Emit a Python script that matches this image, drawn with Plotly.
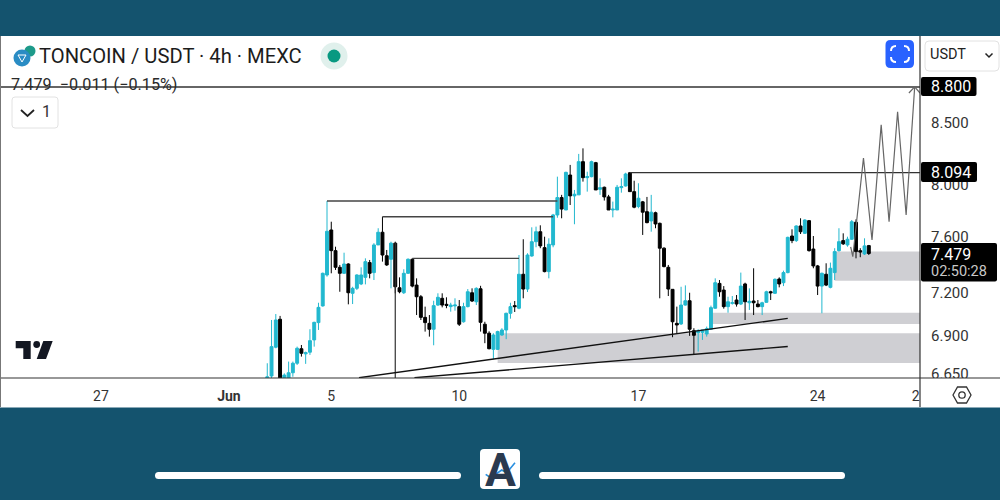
import numpy as np
import pandas as pd
import plotly.graph_objects as go

# 4h candles
dates = pd.date_range("2024-06-02 12:00", periods=142, freq="4h")
opens = [6.610,6.636,6.825,7.014,6.610,6.610,6.657,6.719,6.815,6.781,6.792,6.874,6.991,7.106,7.324,
         7.653,7.50,7.379,7.336,7.403,7.194,7.229,7.26,7.307,7.413,
         7.341,7.542,7.636,7.463,7.437,7.555,7.233,7.198,7.336,7.437,
         7.252,7.17,7.027,6.986,6.946,7.112,7.159,7.117,7.101,7.106,
         7.101,6.997,7.101,7.198,7.135,7.226,6.98,6.919,
         6.811,6.811,6.907,6.941,7.055,7.108,7.09,7.329,7.224,7.461,
         7.566,7.64,7.522,7.348,7.542,7.766,7.899,7.804,8.075,7.912,
         7.92,8.181,8.054,8.062,8.173,7.963,7.979,7.904,7.804,7.804,
         7.976,7.989,8.093,7.945,7.83,7.866,7.791,7.721,7.783,7.703,
         7.518,7.379,7.222,6.986,6.982,7.112,7.142,6.936,6.923,6.925,
         6.914,6.946,7.09,7.264,7.217,7.101,7.124,7.147,7.119,7.26,
         7.128,7.14,7.119,7.101,7.131,7.205,7.194,7.295,7.269,7.341,
         7.608,7.574,7.683,7.628,7.723,7.512,7.389,7.245,7.329,7.236,
         7.341,7.50,7.574,7.542,7.584,7.711,7.50,7.476,7.537]
highs = [6.719,7.009,7.050,7.037,6.653,6.730,6.730,6.829,6.84,6.796,6.946,6.997,7.128,7.341,7.873,
         7.715,7.529,7.396,7.485,7.408,7.240,7.329,7.379,7.444,7.432,
         7.555,7.666,7.753,7.505,7.566,7.566,7.307,7.365,7.444,7.444,
         7.30,7.182,7.101,7.043,7.142,7.194,7.194,7.166,7.128,7.159,
         7.147,7.128,7.224,7.229,7.236,7.247,6.997,6.932,
         6.919,6.936,6.953,7.059,7.128,7.14,7.468,7.584,7.481,7.673,
         7.678,7.688,7.603,7.591,7.774,8.062,7.92,8.101,8.155,7.958,
         8.243,8.288,8.101,8.189,8.179,8.049,7.984,7.92,7.868,7.997,
         8.049,8.093,8.099,8.03,8.01,7.873,7.904,7.92,7.791,7.708,
         7.525,7.396,7.222,7.101,7.24,7.25,7.198,6.953,6.946,6.941,
         6.964,7.108,7.30,7.288,7.245,7.17,7.175,7.182,7.341,7.269,
         7.229,7.372,7.147,7.135,7.212,7.212,7.30,7.307,7.355,7.603,
         7.658,7.688,7.741,7.733,7.728,7.608,7.396,7.341,7.408,7.413,
         7.518,7.666,7.628,7.603,7.728,7.733,7.518,7.591,7.542]
lows = [6.59,6.623,6.818,6.59,6.60,6.60,6.631,6.708,6.763,6.715,6.774,6.829,6.941,7.101,7.312,
        7.336,7.36,7.205,7.331,7.117,7.119,7.217,7.252,7.257,7.30,
        7.288,7.542,7.42,7.389,7.229,7.194,7.194,7.189,7.331,7.236,
        7.043,7.009,6.93,6.896,6.838,7.106,7.096,7.09,7.066,7.073,
        6.968,6.991,7.096,7.133,7.112,6.93,6.852,6.811,
        6.746,6.807,6.901,6.879,7.018,7.064,7.083,7.159,7.203,7.456,
        7.525,7.518,7.343,7.30,7.525,7.745,7.741,7.804,7.842,7.696,
        7.92,8.023,7.945,8.057,7.958,7.92,7.876,7.804,7.748,7.804,
        7.937,7.984,7.945,7.817,7.817,7.616,7.703,7.64,7.666,7.159,
        7.379,7.175,6.892,6.919,6.975,7.108,6.901,6.779,6.796,6.874,
        6.896,6.941,7.087,7.17,7.087,7.059,7.115,7.101,7.112,7.009,
        7.078,7.043,7.096,7.043,7.128,7.147,7.189,7.236,7.245,7.336,
        7.555,7.564,7.623,7.623,7.493,7.372,7.182,7.055,7.245,7.229,
        7.288,7.493,7.542,7.529,7.579,7.444,7.452,7.468,7.468]
closes = [6.631,6.829,7.009,6.610,6.642,6.657,6.719,6.818,6.785,6.789,6.869,6.993,7.096,7.336,7.643,
          7.50,7.379,7.336,7.403,7.198,7.229,7.324,7.324,7.42,7.336,
          7.542,7.636,7.468,7.396,7.555,7.24,7.205,7.336,7.437,7.245,
          7.17,7.027,6.991,6.946,7.108,7.166,7.112,7.11,7.112,7.112,
          6.98,7.101,7.205,7.14,7.229,6.993,6.919,6.815,
          6.907,6.93,6.941,7.055,7.101,7.101,7.329,7.224,7.468,7.566,
          7.64,7.535,7.348,7.547,7.766,7.899,7.811,8.096,7.912,7.925,
          8.181,8.054,8.062,8.181,7.958,7.976,7.904,7.804,7.81,7.979,
          7.984,8.083,7.945,7.825,7.894,7.787,7.708,7.787,7.698,7.518,
          7.384,7.224,6.997,6.975,7.112,7.142,6.946,6.905,6.936,6.941,
          6.95,7.094,7.269,7.205,7.101,7.135,7.128,7.119,7.245,7.135,
          7.138,7.128,7.101,7.128,7.205,7.198,7.293,7.26,7.341,7.598,
          7.574,7.683,7.64,7.728,7.50,7.389,7.245,7.336,7.252,7.372,
          7.493,7.566,7.55,7.584,7.715,7.493,7.49,7.535,7.479]

# drawings on the chart
level_880 = ["2024-05-23 01:24", "2024-06-28 00:00"]
level_880_y = [8.8, 8.8]
level_8094 = ["2024-06-16 16:00", "2024-06-28 00:00"]
level_8094_y = [8.094, 8.094]
level_a = ["2024-06-04 20:00", "2024-06-13 20:00"]
level_a_y = [7.873, 7.873]
level_b = ["2024-06-07 00:00", "2024-06-13 16:00"]
level_b_y = [7.753, 7.753]
level_c = ["2024-06-08 04:00", "2024-06-12 08:00"]
level_c_y = [7.444, 7.444]
drop_x = ["2024-06-07 12:00", "2024-06-07 12:00"]
drop_y = [7.555, 6.62]
trend1_x = ["2024-06-06 02:00", "2024-06-22 20:00"]
trend1_y = [6.625, 7.02]
trend2_x = ["2024-06-08 06:00", "2024-06-22 20:00"]
trend2_y = [6.625, 6.83]
zig_x = ["2024-06-25 07:00", "2024-06-25 09:00", "2024-06-25 19:00", "2024-06-26 03:00", "2024-06-26 11:36",
         "2024-06-26 19:00", "2024-06-27 03:00", "2024-06-27 11:00", "2024-06-27 19:00"]
zig_y = [7.527, 7.456, 8.21, 7.579, 8.48, 7.715, 8.589, 7.766, 8.8]
head_x = ["2024-06-27 13:36", "2024-06-27 19:00", "2024-06-28 00:00"]
head_y = [8.748, 8.8, 8.748]
# demand zones: start, end, low, high
zone_starts = ["2024-06-11 12:00", "2024-06-19 20:00", "2024-06-24 16:00"]
zone_end = "2024-06-28 00:00"
zone_lows = [6.72, 6.982, 7.283]
zone_highs = [6.919, 7.059, 7.493]

price_ticks = [8.5, 8.0, 7.6, 7.2, 6.9, 6.65]
price_labels = ["8.500", "8.000", "7.600", "7.200", "6.900", "6.650"]
day_ticks = ["2024-05-27", "2024-06-01", "2024-06-05", "2024-06-10", "2024-06-17", "2024-06-24", "2024-06-27 20:00"]
day_labels = ["27", "<b>Jun</b>", "5", "10", "17", "24", "2"]

TEAL = "#14536e"
CANDLE_UP = "#22b8cf"
DARK = "#333333"


def fx(x):
    return x / 1000


def fy(y):
    return 1 - y / 500


def rounded(x0, y0, x1, y1, r):
    a, b, c, d = fx(x0), fy(y0), fx(x1), fy(y1)
    rx, ry = r / 1000, r / 500
    return (f"M{a+rx},{b} L{c-rx},{b} Q{c},{b} {c},{b-ry} L{c},{d+ry} Q{c},{d} {c-rx},{d} "
            f"L{a+rx},{d} Q{a},{d} {a},{d+ry} L{a},{b-ry} Q{a},{b} {a+rx},{b} Z")


def poly(points, close=True):
    s = "M" + " L".join(f"{fx(x)},{fy(y)}" for x, y in points)
    return s + (" Z" if close else "")


def corner(x0, y0, cx, cy, x1, y1):
    return f"M{fx(x0)},{fy(y0)} Q{fx(cx)},{fy(cy)} {fx(x1)},{fy(y1)}"


def paper_shape(path, fill="rgba(0,0,0,0)", line=None, width=1, layer="above"):
    return dict(type="path", xref="paper", yref="paper", path=path, fillcolor=fill,
                line=dict(color=line or "rgba(0,0,0,0)", width=width if line else 0), layer=layer)


def circle(cx, cy, r, fill, line=None, width=1):
    return dict(type="circle", xref="paper", yref="paper", x0=fx(cx - r), x1=fx(cx + r), y0=fy(cy + r), y1=fy(cy - r),
                fillcolor=fill, line=dict(color=line or "rgba(0,0,0,0)", width=width if line else 0), layer="above")


def label(x, y, text, size=14, color="#222222", anchor="left"):
    return dict(xref="paper", yref="paper", x=fx(x), y=fy(y), text=text, showarrow=False, xanchor=anchor, yanchor="middle",
                font=dict(size=size, color=color, family="Roboto"), borderpad=0, borderwidth=0)


fig = go.Figure()
fig.add_trace(go.Candlestick(x=dates, open=opens, high=highs, low=lows, close=closes,
                             increasing=dict(line=dict(color=CANDLE_UP, width=1), fillcolor=CANDLE_UP),
                             decreasing=dict(line=dict(color="#000000", width=1), fillcolor="#000000"),
                             showlegend=False, hoverinfo="skip"))

for xs, ys, color, w in [(level_880, level_880_y, "#333333", 1.4), (level_8094, level_8094_y, "#333333", 1.4),
                         (level_a, level_a_y, "#444444", 1.4), (level_b, level_b_y, "#444444", 1.4), (level_c, level_c_y, "#444444", 1.4),
                         (drop_x, drop_y, "#333333", 1.2), (trend1_x, trend1_y, "#111111", 1.4), (trend2_x, trend2_y, "#111111", 1.4),
                         (zig_x, zig_y, "#666666", 1.2), (head_x, head_y, "#666666", 1.2)]:
    fig.add_trace(go.Scatter(x=xs, y=ys, mode="lines", line=dict(color=color, width=w), showlegend=False, hoverinfo="skip"))

shapes = [
    # white chart card on the teal page
    dict(type="rect", xref="paper", yref="paper", x0=0, x1=1, y0=fy(407.5), y1=fy(36), fillcolor="white", line=dict(width=0), layer="below"),
]
for start, low, high in zip(zone_starts, zone_lows, zone_highs):
    shapes.append(dict(type="rect", xref="x", yref="y", x0=start, x1=zone_end, y0=low, y1=high,
                       fillcolor="#cfcfd3", line=dict(width=0), layer="below"))

shapes += [
    # cuts the lowest price label at the axis line, as in the picture
    dict(type="rect", xref="paper", yref="paper", x0=fx(922), x1=fx(999), y0=fy(386), y1=fy(378), fillcolor="white", line=dict(width=0)),
    dict(type="line", xref="paper", yref="paper", x0=0, x1=1, y0=fy(378), y1=fy(378), line=dict(color=DARK, width=1.2)),
    dict(type="line", xref="paper", yref="paper", x0=fx(920), x1=fx(920), y0=fy(407), y1=fy(36), line=dict(color=DARK, width=1.2)),
    dict(type="line", xref="paper", yref="paper", x0=fx(0.5), x1=fx(0.5), y0=fy(407), y1=fy(36), line=dict(color="#777777", width=1)),
    # price tags
    paper_shape(rounded(921, 77, 976.5, 96, 2), fill="#000000"),
    paper_shape(rounded(921, 162, 977, 182, 2), fill="#000000"),
    paper_shape(rounded(921, 243, 997, 281.5, 2), fill="#000000"),
    # ticker icon
    circle(30, 51, 5.5, "#1d9a8a"),
    circle(22, 58, 8.5, "#2a8cc4"),
    paper_shape(poly([(18, 55), (26, 55), (22, 62)]), line="white", width=1),
    # market status dot
    circle(334, 56, 13.5, "#e0f0ec"),
    circle(334, 56, 6.5, "#089981"),
    # legend toggle box
    paper_shape(rounded(12, 97, 58, 128, 3), fill="white", line="#e2e2e2", width=1),
    paper_shape(poly([(21, 110), (27.5, 116), (34, 110)], close=False), line="#222222", width=1.8),
    # full screen button
    paper_shape(rounded(885.5, 40, 914, 68, 5), fill="#2962ff"),
    paper_shape(corner(891, 51, 891, 46, 896, 46), line="white", width=2),
    paper_shape(corner(904, 46, 909, 46, 909, 51), line="white", width=2),
    paper_shape(corner(909, 57, 909, 62, 904, 62), line="white", width=2),
    paper_shape(corner(896, 62, 891, 62, 891, 57), line="white", width=2),
    # currency box
    paper_shape(rounded(925, 41, 999, 71, 4), fill="white", line="#e2e2e2", width=1),
    paper_shape(poly([(985.5, 53.5), (989, 57), (992.5, 53.5)], close=False), line="#222222", width=1.5),
    # tradingview mark
    paper_shape(poly([(15.7, 341), (30.7, 341), (30.7, 359), (23.3, 359), (23.3, 348.3), (15.7, 348.3)]), fill="#131722"),
    circle(36.7, 344.5, 3.4, "#131722"),
    paper_shape(poly([(43.3, 341), (52.7, 341), (46, 359), (36.7, 359)]), fill="#131722"),
    # settings icon
    paper_shape(poly([(953, 395), (957.5, 387), (966.5, 387), (971, 395), (966.5, 403), (957.5, 403)]), line="#333333", width=1.3),
    circle(962, 395, 3.2, "white", line="#333333", width=1.3),
    # footer bars and badge
    paper_shape(rounded(155, 472, 461, 479, 3.5), fill="white"),
    paper_shape(rounded(539, 472, 845, 479, 3.5), fill="white"),
    paper_shape(rounded(480, 449, 520, 489, 4), fill="white"),
]

annotations = [
    label(39, 56, "TONCOIN / USDT · 4h · MEXC", size=20.2, color="#1c1c1c"),
    label(11, 84, "7.479  −0.011 (−0.15%)", size=16.2, color="#2a2a2a"),
    label(42, 112, "1", size=16, color="#333333"),
    label(930, 55, "USDT", size=14.5, color="#222222"),
    label(931, 86.5, "8.800", size=16, color="white"),
    label(931, 172, "8.094", size=16, color="white"),
    label(931, 254, "7.479", size=16, color="white"),
    label(931, 271, "02:50:28", size=14.5, color="#c8c8c8"),
    label(500.5, 470, "<b>A</b>", size=46, color="#2b3a4f", anchor="center"),
]

fig.update_layout(
    width=1000, height=500, margin=dict(l=0, r=0, t=0, b=0, autoexpand=False), autosize=False,
    paper_bgcolor=TEAL, plot_bgcolor="white", boxgap=0.2, boxgroupgap=0.15, showlegend=False,
    shapes=shapes, annotations=annotations, font=dict(family="Roboto", color="#333333"),
    xaxis=dict(domain=[0, 0.92], range=["2024-05-23 01:24", "2024-06-28 00:00"], tickmode="array",
               tickvals=day_ticks, ticktext=day_labels, showgrid=False, zeroline=False, rangeslider=dict(visible=False),
               tickfont=dict(size=14, color="#333333"), ticks="", ticklabelstandoff=8),
    yaxis=dict(domain=[1 - 378 / 500, 1 - 36 / 500], type="log", side="right", range=list(np.log10([6.623, 9.249])), tickmode="array",
               tickvals=price_ticks, ticktext=price_labels, showgrid=False, zeroline=False,
               tickfont=dict(size=15, color="#333333"), ticks="", ticklabelstandoff=10),
)
# blue trend stroke over the badge letter
fig.add_shape(paper_shape(poly([(485.7, 474.3), (490.7, 477.7), (501.7, 470), (506.7, 472.7), (515, 462.7)], close=False), line="#2a8fe0", width=1.6))
# page margin would shift the 1000x500 figure
fig.write_html("out.html", post_script="document.body.style.margin='0';", config={"displayModeBar": False})
